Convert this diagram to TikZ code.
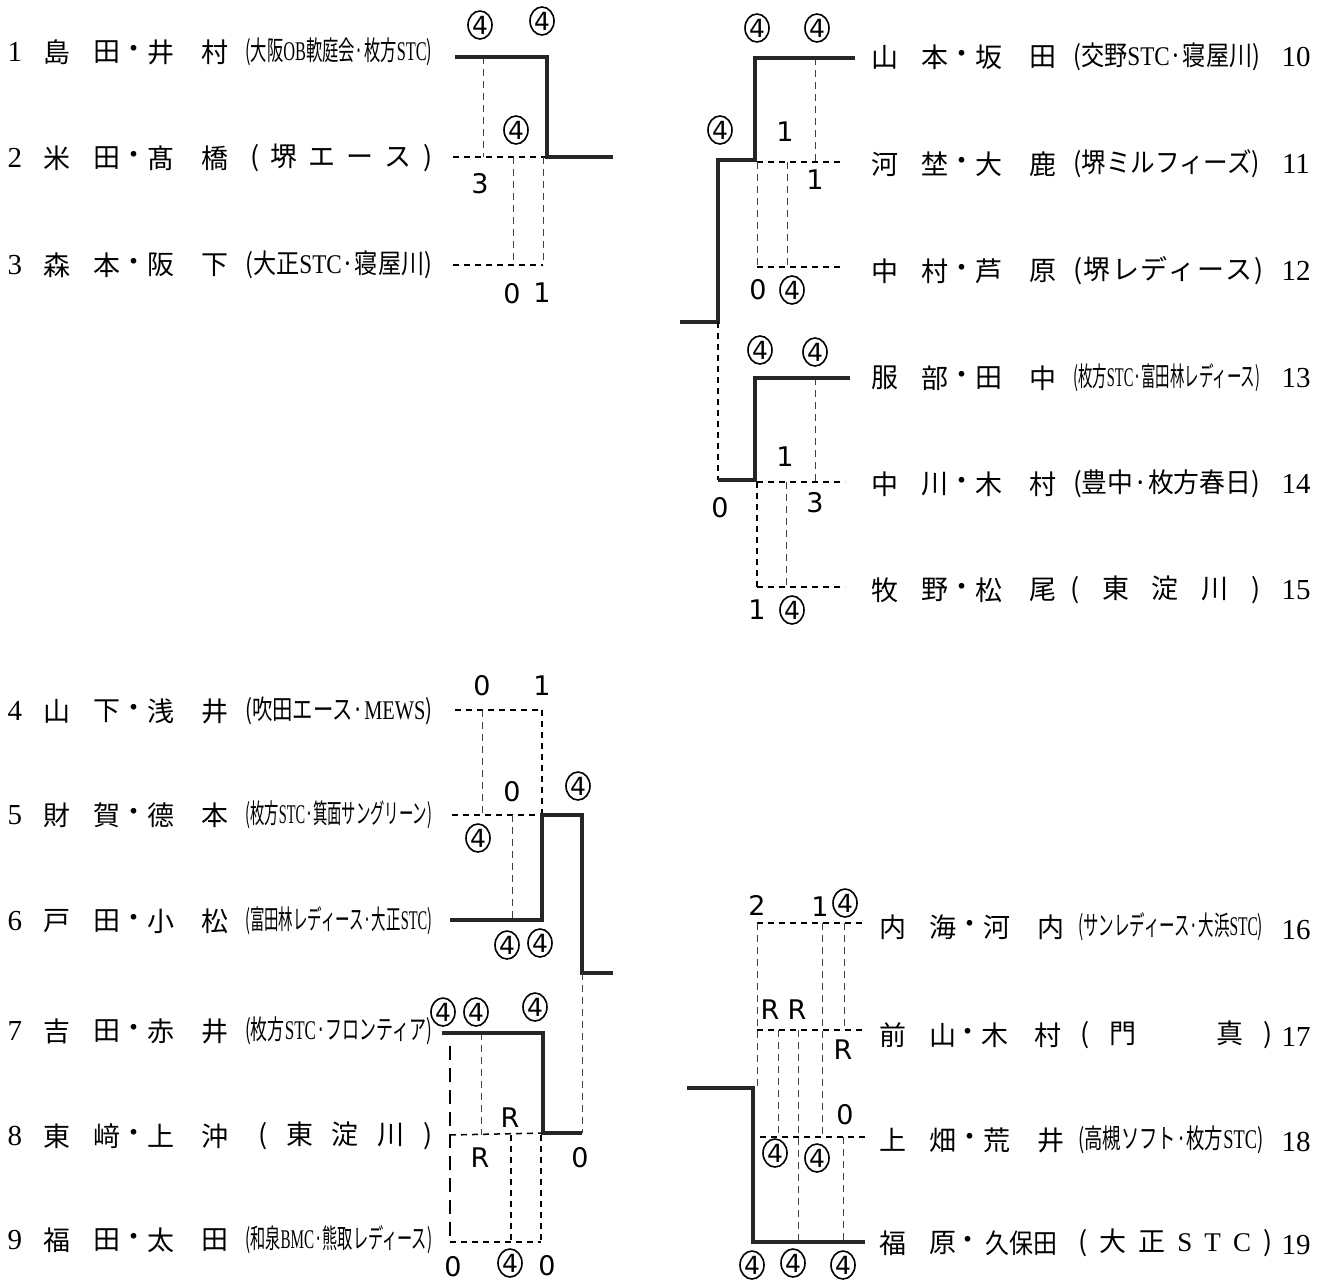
\documentclass[tikz,border=0pt]{standalone}
\usepackage{fontspec}
\usepackage{graphicx}
\usetikzlibrary{shapes.geometric}
\setmainfont{Liberation Serif}
\newfontfamily\cjk{Noto Sans CJK JP}
\newfontfamily\hand{DejaVu Sans}
\newcommand\lat[1]{{\rmfamily #1}}
\newcommand\squeeze[2]{\resizebox{#1pt}{\height}{#2}}
\newcommand\spread[2]{\makebox[#1pt][s]{#2}}
\newcommand\nrow[7]{%
  \node[nm] (#1a) at (#2,#3) {#4};
  \node[nm] (#1b) at (#2+50,#3) {#5};
  \node[nm] (#1d) at (#2+77,#3) {・};
  \node[nm] (#1c) at (#2+104,#3) {#6};
  \node[nm] (#1e) at (#2+158,#3) {#7};}
\begin{document}
\begin{tikzpicture}[x=1pt,y=-1pt,
  nm/.style={font=\cjk\fontsize{27}{27}\selectfont, inner sep=0pt},
  ptx/.style={nm, anchor=west},
  numb/.style={font=\fontsize{29}{29}\selectfont, inner sep=0pt},
  win/.style={line width=4.5pt, black!85},
  dsh/.style={line width=1.5pt, dash pattern=on 6pt off 5pt},
  dthin/.style={line width=1pt, black!75, dash pattern=on 7pt off 5pt},
  hw/.style={font=\hand\fontsize{27}{27}\selectfont, inner sep=0pt},
  cf/.style={ellipse, draw, line width=1.6pt, minimum width=24pt, minimum height=28pt, inner sep=0pt, font=\hand\fontsize{25}{25}\selectfont}]
\useasboundingbox (0,0) rectangle (1322,1286);

% ---------------- left column names ----------------
\node[numb] (k1) at (15,52) {1}; \nrow{r1}{57}{52}{島}{田}{井}{村}
\node[ptx] (p1) at (245,52) {\squeeze{187}{(大阪\lat{OB}軟庭会·枚方\lat{STC})}};
\node[numb] (k2) at (15,158) {2}; \nrow{r2}{57}{158}{米}{田}{髙}{橋}
\node[ptx] (p2) at (250,158) {\spread{182}{(\hfill 堺\hfill エ\hfill ー\hfill ス\hfill )}};
\node[numb] (k3) at (15,265) {3}; \nrow{r3}{57}{265}{森}{本}{阪}{下}
\node[ptx] (p3) at (245,265) {\squeeze{187}{(大正\lat{STC}·寝屋川)}};
\node[numb] (k4) at (15,711) {4}; \nrow{r4}{57}{711}{山}{下}{浅}{井}
\node[ptx] (p4) at (245,711) {\squeeze{187}{(吹田エース·\lat{MEWS})}};
\node[numb] (k5) at (15,815) {5}; \nrow{r5}{57}{815}{財}{賀}{德}{本}
\node[ptx] (p5) at (245,815) {\squeeze{187}{(枚方\lat{STC}·箕面サングリーン)}};
\node[numb] (k6) at (15,921) {6}; \nrow{r6}{57}{921}{戸}{田}{小}{松}
\node[ptx] (p6) at (245,921) {\squeeze{187}{(富田林レディース·大正\lat{STC})}};
\node[numb] (k7) at (15,1031) {7}; \nrow{r7}{57}{1031}{吉}{田}{赤}{井}
\node[ptx] (p7) at (245,1031) {\squeeze{187}{(枚方\lat{STC}·フロンティア)}};
\node[numb] (k8) at (15,1136) {8}; \nrow{r8}{57}{1136}{東}{﨑}{上}{沖}
\node[ptx] (p8) at (258,1136) {\spread{174}{(\hfill 東\hfill 淀\hfill 川\hfill )}};
\node[numb] (k9) at (15,1240) {9}; \nrow{r9}{57}{1240}{福}{田}{太}{田}
\node[ptx] (p9) at (245,1240) {\squeeze{187}{(和泉\lat{BMC}·熊取レディース)}};

% ---------------- right column names ----------------
\nrow{r10}{885}{57}{山}{本}{坂}{田}
\node[ptx] (p10) at (1073,57) {\squeeze{187}{(交野\lat{STC}·寝屋川)}};
\node[numb] (k10) at (1296,57) {10};
\nrow{r11}{885}{164}{河}{埜}{大}{鹿}
\node[ptx] (p11) at (1073,164) {\squeeze{187}{(堺ミルフィーズ)}};
\node[numb] (k11) at (1296,164) {11};
\nrow{r12}{885}{271}{中}{村}{芦}{原}
\node[ptx] (p12) at (1073,271) {\spread{190}{(\hfill 堺\hfill レ\hfill デ\hfill ィ\hfill ー\hfill ス\hfill )}};
\node[numb] (k12) at (1296,271) {12};
\nrow{r13}{885}{378}{服}{部}{田}{中}
\node[ptx] (p13) at (1073,378) {\squeeze{187}{(枚方\lat{STC}·富田林レディース)}};
\node[numb] (k13) at (1296,378) {13};
\nrow{r14}{885}{484}{中}{川}{木}{村}
\node[ptx] (p14) at (1073,484) {\squeeze{187}{(豊中·枚方春日)}};
\node[numb] (k14) at (1296,484) {14};
\nrow{r15}{885}{590}{牧}{野}{松}{尾}
\node[ptx] (p15) at (1070,590) {\spread{190}{(\hfill 東\hfill 淀\hfill 川\hfill )}};
\node[numb] (k15) at (1296,590) {15};
\nrow{r16}{893}{927}{内}{海}{河}{内}
\node[ptx] (p16) at (1078,927) {\squeeze{185}{(サンレディース·大浜\lat{STC})}};
\node[numb] (k16) at (1296,930) {16};
\node[nm] (r17a) at (893,1035) {前}; \node[nm] (r17b) at (943,1035) {山};
\node[nm] (r17d) at (968,1035) {・}; \node[nm] (r17c) at (995,1035) {木};
\node[nm] (r17e) at (1048,1035) {村};
\node[ptx] (p17) at (1080,1035) {\spread{192}{(\hfill 門\hfill\hfill\hfill\hfill 真\hfill )}};
\node[numb] (k17) at (1296,1037) {17};
\nrow{r18}{893}{1140}{上}{畑}{荒}{井}
\node[ptx] (p18) at (1078,1140) {\squeeze{185}{(高槻ソフト·枚方\lat{STC})}};
\node[numb] (k18) at (1296,1142) {18};
\node[nm] (r19a) at (893,1243) {福}; \node[nm] (r19b) at (943,1243) {原};
\node[nm] (r19d) at (968,1243) {・};
\node[nm] (r19c) at (1021,1243) {\squeeze{72}{久保田}};
\node[ptx] (p19) at (1078,1243) {\spread{194}{(\hfill 大\hfill 正\hfill \lat{S}\hfill \lat{T}\hfill \lat{C}\hfill )}};
\node[numb] (k19) at (1296,1245) {19};

% ---------------- group 1-3 ----------------
\coordinate (a1) at (455,57); \coordinate (a2) at (547,57);
\coordinate (a3) at (547,157); \coordinate (a4) at (613,157);
\coordinate (a5) at (453,157); \coordinate (a6) at (483,57); \coordinate (a7) at (483,157);
\coordinate (a8) at (453,265); \coordinate (a9) at (543,265);
\coordinate (a10) at (513,157); \coordinate (a11) at (513,265);
\coordinate (a12) at (543,157);
\draw[dsh] (a5) -- (a3);
\draw[dthin] (a6) -- (a7);
\draw[dsh] (a8) -- (a9);
\draw[dthin] (a10) -- (a11);
\draw[dthin] (a12) -- (a9);
\draw[win] (a1) -- (a2) -- (a3) -- (a4);
\node[cf] (sa1) at (480,25) {4}; \node[cf] (sa2) at (542,21) {4};
\node[cf] (sa3) at (516,130) {4}; \node[hw] (sa4) at (480,184) {3};
\node[hw] (sa5) at (512,294) {0}; \node[hw] (sa6) at (542,293) {1};

% ---------------- group 10-12 ----------------
\coordinate (b1) at (855,58); \coordinate (b2) at (755,58); \coordinate (b3) at (755,160);
\coordinate (b4) at (718,160); \coordinate (b5) at (718,322); \coordinate (b6) at (680,322);
\coordinate (b7) at (757,162); \coordinate (b8) at (843,162);
\coordinate (b9) at (815,58); \coordinate (b10) at (815,162);
\coordinate (b11) at (757,267); \coordinate (b12) at (843,267);
\coordinate (b13) at (787,162); \coordinate (b14) at (787,267);
\draw[dsh] (b7) -- (b8);
\draw[dthin] (b9) -- (b10);
\draw[dsh] (b11) -- (b12);
\draw[dthin] (b7) -- (b11);
\draw[dthin] (b13) -- (b14);
\draw[win] (b1) -- (b2) -- (b3) -- (b4) -- (b5) -- (b6);
\node[cf] (sb1) at (757,28) {4}; \node[cf] (sb2) at (817,28) {4};
\node[cf] (sb3) at (720,130) {4}; \node[hw] (sb4) at (785,132) {1};
\node[hw] (sb5) at (815,180) {1}; \node[hw] (sb6) at (758,290) {0};
\node[cf] (sb7) at (792,290) {4};

% ---------------- group 13-15 ----------------
\coordinate (c1) at (850,378); \coordinate (c2) at (755,378); \coordinate (c3) at (755,480);
\coordinate (c4) at (718,480);
\coordinate (c5) at (757,482); \coordinate (c6) at (845,482);
\coordinate (c7) at (815,378); \coordinate (c8) at (815,482);
\coordinate (c9) at (757,587); \coordinate (c10) at (845,587);
\coordinate (c11) at (786,482); \coordinate (c12) at (786,587);
\draw[dsh] (b5) -- (c4);
\draw[dsh] (c5) -- (c6);
\draw[dthin] (c7) -- (c8);
\draw[dsh] (c9) -- (c10);
\draw[dsh] (c5) -- (c9);
\draw[dthin] (c11) -- (c12);
\draw[win] (c1) -- (c2) -- (c3) -- (c4);
\node[cf] (sc1) at (760,350) {4}; \node[cf] (sc2) at (815,352) {4};
\node[hw] (sc3) at (785,457) {1}; \node[hw] (sc4) at (720,508) {0};
\node[hw] (sc5) at (815,503) {3}; \node[hw] (sc6) at (757,610) {1};
\node[cf] (sc7) at (792,610) {4};

% ---------------- group 4-6 ----------------
\coordinate (d1) at (450,920); \coordinate (d2) at (542,920); \coordinate (d3) at (542,815);
\coordinate (d4) at (582,815); \coordinate (d5) at (582,973); \coordinate (d6) at (613,973);
\coordinate (d7) at (455,710); \coordinate (d8) at (542,710);
\coordinate (d9) at (482,710); \coordinate (d10) at (482,815);
\coordinate (d11) at (452,815);
\coordinate (d12) at (512,815); \coordinate (d13) at (512,920);
\draw[dsh] (d7) -- (d8);
\draw[dthin] (d9) -- (d10);
\draw[dsh] (d8) -- (d3);
\draw[dsh] (d11) -- (d3);
\draw[dthin] (d12) -- (d13);
\draw[win] (d1) -- (d2) -- (d3) -- (d4) -- (d5) -- (d6);
\node[hw] (sd1) at (482,686) {0}; \node[hw] (sd2) at (542,686) {1};
\node[hw] (sd3) at (512,792) {0}; \node[cf] (sd4) at (578,786) {4};
\node[cf] (sd5) at (478,838) {4}; \node[cf] (sd6) at (507,945) {4};
\node[cf] (sd7) at (540,943) {4};

% ---------------- group 7-9 ----------------
\coordinate (e1) at (442,1033); \coordinate (e2) at (543,1033); \coordinate (e3) at (543,1133);
\coordinate (e4) at (582,1133);
\coordinate (e5) at (450,1135); \coordinate (e6) at (481,1033); \coordinate (e7) at (481,1135);
\coordinate (e8) at (450,1046); \coordinate (e9) at (450,1242); \coordinate (e10) at (541,1242);
\coordinate (e11) at (511,1135); \coordinate (e12) at (511,1242);
\coordinate (e13) at (541,1135);
\draw[dthin] (d5) -- (e4);
\draw[dsh] (e5) -- (e3);
\draw[dthin] (e6) -- (e7);
\draw[line width=1.5pt, dash pattern=on 14pt off 8pt] (e8) -- (e9);
\draw[dsh] (e9) -- (e10);
\draw[dsh] (e11) -- (e12);
\draw[dsh] (e13) -- (e10);
\draw[win] (e1) -- (e2) -- (e3) -- (e4);
\node[cf] (se1) at (443,1012) {4}; \node[cf] (se2) at (476,1012) {4};
\node[cf] (se3) at (535,1007) {4}; \node[hw] (se4) at (510,1118) {R};
\node[hw] (se5) at (480,1158) {R}; \node[hw] (se6) at (580,1158) {0};
\node[hw] (se7) at (453,1267) {0}; \node[cf] (se8) at (510,1263) {4};
\node[hw] (se9) at (547,1266) {0};

% ---------------- group 16-19 ----------------
\coordinate (f1) at (687,1088); \coordinate (f2) at (753,1088); \coordinate (f3) at (753,1242);
\coordinate (f4) at (865,1242);
\coordinate (f5) at (757,923); \coordinate (f6) at (865,923); \coordinate (f7) at (757,1086);
\coordinate (f8) at (757,1030); \coordinate (f9) at (865,1030);
\coordinate (f10) at (760,1137); \coordinate (f11) at (865,1137);
\coordinate (f12) at (822,923); \coordinate (f13) at (822,1137);
\coordinate (f14) at (844,923); \coordinate (f15) at (844,1030);
\coordinate (f16) at (778,1030); \coordinate (f17) at (778,1137);
\coordinate (f18) at (798,1030); \coordinate (f19) at (798,1242);
\coordinate (f20) at (843,1137); \coordinate (f21) at (843,1242);
\draw[dsh] (f5) -- (f6);
\draw[dthin] (f5) -- (f7);
\draw[dsh] (f8) -- (f9);
\draw[dsh] (f10) -- (f11);
\draw[dthin] (f12) -- (f13);
\draw[dthin] (f14) -- (f15);
\draw[dthin] (f16) -- (f17);
\draw[dthin] (f18) -- (f19);
\draw[dthin] (f20) -- (f21);
\draw[win] (f1) -- (f2) -- (f3) -- (f4);
\node[hw] (sf1) at (757,905) {2}; \node[hw] (sf2) at (820,907) {1};
\node[cf] (sf3) at (845,903) {4};
\node[hw] (sf4) at (770,1010) {R}; \node[hw] (sf5) at (797,1010) {R};
\node[hw] (sf6) at (843,1050) {R}; \node[hw] (sf7) at (845,1115) {0};
\node[cf] (sf8) at (775,1153) {4}; \node[cf] (sf9) at (817,1158) {4};
\node[cf] (sf10) at (752,1265) {4}; \node[cf] (sf11) at (793,1263) {4};
\node[cf] (sf12) at (843,1265) {4};
\end{tikzpicture}
\end{document}
